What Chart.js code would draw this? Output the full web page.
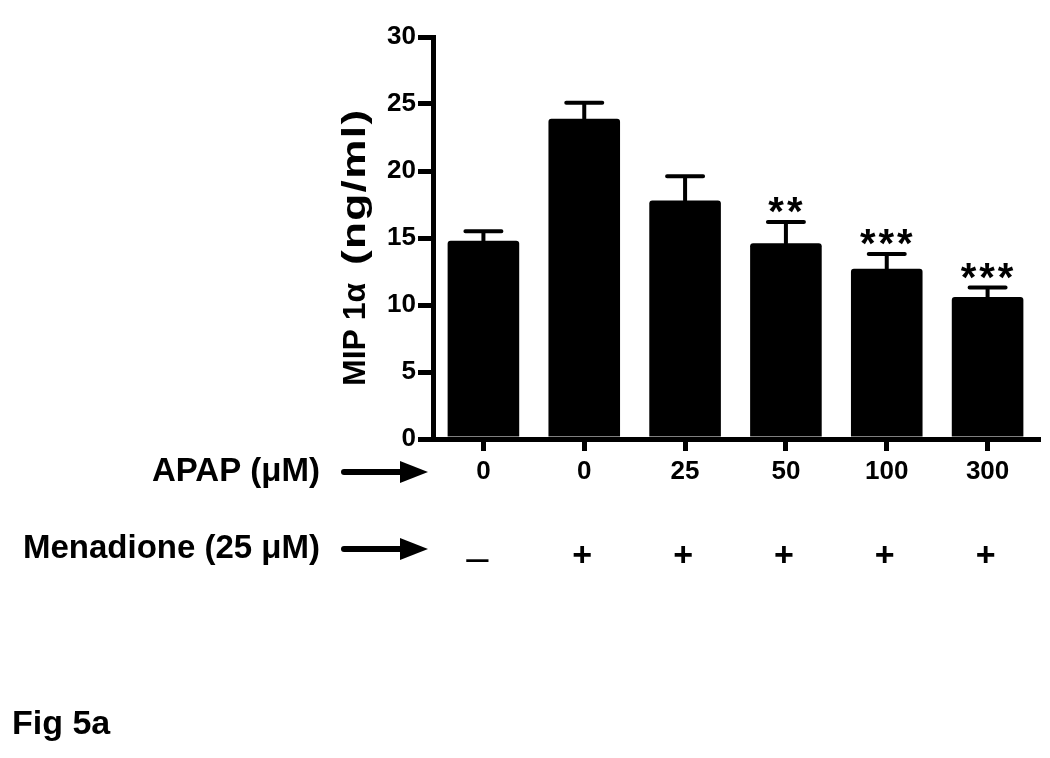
<!DOCTYPE html>
<html>
<head>
<meta charset="utf-8">
<script src="https://cdn.jsdelivr.net/npm/chart.js@4.4.1/dist/chart.umd.min.js"></script>
<style>
    html, body { margin: 0; padding: 0; background: #fff; }
</style>
</head>
<body>
<canvas id="myChart" width="1050" height="758"></canvas>
<script>
// data
const apapDoses = ['0', '0', '25', '50', '100', '300'];
const menadioneSigns = ['\u2013', '+', '+', '+', '+', '+'];
const mipMeans = [14.8, 23.9, 17.8, 14.6, 12.7, 10.6];
const mipSem = [0.7, 1.2, 1.8, 1.6, 1.1, 0.7];
const significance = ['', '', '', '**', '***', '***'];
const yTicks = [0, 5, 10, 15, 20, 25, 30];

const FONT = '"Liberation Sans", Arial, sans-serif';

// error bars (upper half only, lower half is hidden in the black bar)
const errorBars = {
    id: 'errorBars',
    afterDatasetsDraw(chart) {
        const ctx = chart.ctx;
        const yScale = chart.scales.y;
        const meta = chart.getDatasetMeta(0);
        ctx.save();
        ctx.strokeStyle = '#000';
        ctx.fillStyle = '#000';
        ctx.lineWidth = 4;
        ctx.lineCap = 'round';
        meta.data.forEach((bar, i) => {
            const top = yScale.getPixelForValue(mipMeans[i]);
            const end = yScale.getPixelForValue(mipMeans[i] + mipSem[i]);
            ctx.beginPath();
            ctx.moveTo(bar.x, top);
            ctx.lineTo(bar.x, end);
            ctx.moveTo(bar.x - 18, end);
            ctx.lineTo(bar.x + 18, end);
            ctx.stroke();
            if (significance[i]) {
                ctx.font = 'bold 40px ' + FONT;
                ctx.letterSpacing = '3px';
                ctx.textAlign = 'center';
                ctx.textBaseline = 'alphabetic';
                ctx.fillText(significance[i], bar.x + 1, end + 3);
            }
        });
        ctx.restore();
    }
};

// y title, row labels, arrows, menadione row and figure label
const extraText = {
    id: 'extraText',
    afterDraw(chart) {
        const ctx = chart.ctx;
        const xScale = chart.scales.x;
        ctx.save();
        ctx.fillStyle = '#000';
        ctx.strokeStyle = '#000';

        // y axis title, the unit part is drawn stretched like the original
        ctx.save();
        ctx.translate(356, 386);
        ctx.rotate(-Math.PI / 2);
        ctx.textAlign = 'left';
        ctx.textBaseline = 'middle';
        ctx.font = 'bold 32px ' + FONT;
        ctx.fillText('MIP 1\u03B1', 0, 0);
        ctx.translate(121, 0);
        ctx.scale(1.3, 1);
        ctx.font = 'bold 34px ' + FONT;
        ctx.letterSpacing = '1px';
        ctx.fillText('(ng/ml)', 0, 0);
        ctx.restore();

        const rows = [
            { text: 'APAP (\u03BCM)', y: 472 },
            { text: 'Menadione (25 \u03BCM)', y: 549 }
        ];
        rows.forEach(r => {
            ctx.font = 'bold 33px ' + FONT;
            ctx.textAlign = 'right';
            ctx.textBaseline = 'middle';
            ctx.fillText(r.text, 320, r.y);
            // arrow
            ctx.lineWidth = 6;
            ctx.lineCap = 'round';
            ctx.beginPath();
            ctx.moveTo(344, r.y);
            ctx.lineTo(404, r.y);
            ctx.stroke();
            ctx.beginPath();
            ctx.moveTo(400, r.y - 11);
            ctx.lineTo(428, r.y);
            ctx.lineTo(400, r.y + 11);
            ctx.closePath();
            ctx.fill();
        });

        ctx.textAlign = 'center';
        ctx.textBaseline = 'middle';
        menadioneSigns.forEach((s, i) => {
            const x = xScale.getPixelForValue(i);
            if (s === '+') {
                ctx.font = 'bold 34px ' + FONT;
                ctx.fillText(s, x - 2, 557);
            } else {
                ctx.font = '40px ' + FONT;
                ctx.fillText(s, x - 6, 560);
            }
        });

        ctx.font = 'bold 34px ' + FONT;
        ctx.textAlign = 'left';
        ctx.textBaseline = 'alphabetic';
        ctx.fillText('Fig 5a', 12, 734);
        ctx.restore();
    }
};

const ctx = document.getElementById('myChart').getContext('2d');

new Chart(ctx, {
    type: 'bar',
    data: {
        labels: apapDoses,
        datasets: [{
            data: mipMeans,
            backgroundColor: '#000',
            borderRadius: 3,
            borderSkipped: 'bottom',
            categoryPercentage: 1,
            barPercentage: 0.71
        }]
    },
    options: {
        responsive: false,
        animation: false,
        layout: {
            padding: { left: 328, right: 12, top: 37, bottom: 269 }
        },
        plugins: {
            legend: { display: false },
            tooltip: { enabled: false }
        },
        scales: {
            x: {
                grid: {
                    offset: false,
                    drawOnChartArea: false,
                    drawTicks: true,
                    tickLength: 12,
                    lineWidth: 5,
                    color: '#000'
                },
                border: { display: true, width: 5, color: '#000' },
                ticks: {
                    color: '#000',
                    padding: 5,
                    font: { family: FONT, size: 26, weight: 'bold' }
                },
                afterFit: (scale) => { scale.height = 50; }
            },
            y: {
                min: 0,
                max: 30,
                afterBuildTicks: (scale) => {
                    scale.ticks = yTicks.map(v => ({ value: v }));
                },
                grid: {
                    drawOnChartArea: false,
                    drawTicks: true,
                    tickLength: 15,
                    lineWidth: 5,
                    color: '#000'
                },
                border: { display: true, width: 5, color: '#000' },
                ticks: {
                    color: '#000',
                    padding: 2,
                    font: { family: FONT, size: 26, weight: 'bold' }
                },
                afterFit: (scale) => { scale.width = 433 - 328; }
            }
        }
    },
    plugins: [errorBars, extraText]
});
</script>
</body>
</html>
